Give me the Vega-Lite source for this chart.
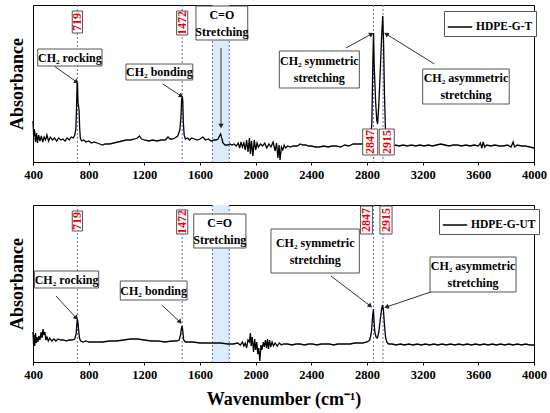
{
  "$schema": "https://vega.github.io/schema/vega-lite/v6.json",
  "padding": {"left": 7, "top": 4, "right": 0, "bottom": 0},
  "datasets": {
    "spec_t": [
      {"x":400,"y":41},{"x":405,"y":26},{"x":410,"y":33},{"x":418,"y":20},{"x":425,"y":29},{"x":432,"y":19},{"x":440,"y":27},{"x":450,"y":21},{"x":460,"y":26},{"x":470,"y":20},{"x":480,"y":25},{"x":490,"y":22},{"x":500,"y":27},{"x":512,"y":21},{"x":525,"y":25},{"x":540,"y":22},{"x":555,"y":24},{"x":570,"y":21},{"x":585,"y":24},{"x":600,"y":22},{"x":615,"y":23},{"x":630,"y":21},{"x":645,"y":24},{"x":660,"y":22},{"x":675,"y":25},{"x":690,"y":24},{"x":700,"y":27},{"x":708,"y":33},{"x":713,"y":55},{"x":717,"y":79},{"x":720,"y":78},{"x":723,"y":60},{"x":727,"y":56},{"x":731,"y":52},{"x":735,"y":35},{"x":740,"y":24},{"x":750,"y":21},{"x":765,"y":22},{"x":780,"y":20},{"x":800,"y":21},{"x":820,"y":19},{"x":840,"y":20},{"x":860,"y":19},{"x":880,"y":18},{"x":900,"y":17},{"x":920,"y":18},{"x":950,"y":18},{"x":980,"y":19},{"x":1010,"y":20},{"x":1040,"y":21},{"x":1070,"y":22},{"x":1100,"y":22},{"x":1130,"y":23},{"x":1150,"y":24},{"x":1165,"y":26},{"x":1180,"y":23},{"x":1200,"y":22},{"x":1230,"y":21},{"x":1260,"y":22},{"x":1290,"y":21},{"x":1320,"y":22},{"x":1350,"y":22},{"x":1370,"y":25},{"x":1385,"y":23},{"x":1400,"y":23},{"x":1420,"y":24},{"x":1440,"y":26},{"x":1455,"y":32},{"x":1463,"y":45},{"x":1468,"y":62},{"x":1472,"y":66},{"x":1476,"y":62},{"x":1480,"y":40},{"x":1486,"y":27},{"x":1495,"y":23},{"x":1510,"y":24},{"x":1525,"y":22},{"x":1540,"y":24},{"x":1560,"y":23},{"x":1580,"y":22},{"x":1600,"y":23},{"x":1620,"y":25},{"x":1640,"y":22},{"x":1660,"y":23},{"x":1680,"y":21},{"x":1700,"y":22},{"x":1715,"y":22},{"x":1730,"y":23},{"x":1740,"y":26},{"x":1748,"y":28},{"x":1756,"y":24},{"x":1765,"y":19},{"x":1780,"y":17},{"x":1800,"y":17},{"x":1815,"y":18},{"x":1830,"y":17},{"x":1845,"y":18},{"x":1860,"y":16},{"x":1875,"y":19},{"x":1885,"y":14},{"x":1895,"y":20},{"x":1905,"y":15},{"x":1915,"y":19},{"x":1925,"y":12},{"x":1935,"y":22},{"x":1945,"y":10},{"x":1955,"y":24},{"x":1962,"y":8},{"x":1970,"y":21},{"x":1980,"y":6},{"x":1990,"y":22},{"x":2000,"y":12},{"x":2010,"y":19},{"x":2020,"y":15},{"x":2035,"y":18},{"x":2050,"y":16},{"x":2065,"y":19},{"x":2080,"y":14},{"x":2095,"y":18},{"x":2110,"y":15},{"x":2125,"y":20},{"x":2140,"y":11},{"x":2150,"y":19},{"x":2160,"y":4},{"x":2168,"y":17},{"x":2175,"y":2},{"x":2185,"y":15},{"x":2195,"y":12},{"x":2205,"y":17},{"x":2215,"y":14},{"x":2230,"y":16},{"x":2250,"y":15},{"x":2270,"y":16},{"x":2300,"y":16},{"x":2320,"y":18},{"x":2340,"y":17},{"x":2360,"y":17},{"x":2380,"y":16},{"x":2400,"y":16},{"x":2430,"y":15},{"x":2460,"y":15},{"x":2490,"y":16},{"x":2520,"y":15},{"x":2550,"y":16},{"x":2580,"y":16},{"x":2610,"y":15},{"x":2640,"y":17},{"x":2670,"y":16},{"x":2700,"y":18},{"x":2730,"y":18},{"x":2760,"y":18},{"x":2790,"y":18},{"x":2810,"y":18},{"x":2825,"y":20},{"x":2835,"y":40},{"x":2842,"y":100},{"x":2847,"y":129},{"x":2852,"y":95},{"x":2862,"y":60},{"x":2870,"y":42},{"x":2876,"y":38},{"x":2884,"y":55},{"x":2895,"y":90},{"x":2905,"y":125},{"x":2913,"y":146},{"x":2919,"y":120},{"x":2925,"y":70},{"x":2932,"y":35},{"x":2940,"y":20},{"x":2950,"y":18},{"x":2970,"y":17},{"x":3000,"y":17},{"x":3030,"y":16},{"x":3060,"y":17},{"x":3090,"y":16},{"x":3120,"y":17},{"x":3150,"y":16},{"x":3180,"y":17},{"x":3210,"y":16},{"x":3240,"y":17},{"x":3270,"y":16},{"x":3300,"y":17},{"x":3330,"y":18},{"x":3360,"y":17},{"x":3390,"y":16},{"x":3420,"y":17},{"x":3450,"y":17},{"x":3480,"y":16},{"x":3510,"y":17},{"x":3540,"y":16},{"x":3570,"y":17},{"x":3600,"y":16},{"x":3615,"y":19},{"x":3625,"y":14},{"x":3635,"y":20},{"x":3645,"y":15},{"x":3660,"y":17},{"x":3690,"y":16},{"x":3720,"y":17},{"x":3750,"y":16},{"x":3780,"y":16},{"x":3810,"y":17},{"x":3835,"y":15},{"x":3850,"y":20},{"x":3860,"y":15},{"x":3880,"y":17},{"x":3910,"y":16},{"x":3940,"y":16},{"x":3970,"y":15},{"x":4000,"y":14}
    ],
    "spec_b": [
      {"x":400,"y":30},{"x":404,"y":18},{"x":408,"y":27},{"x":413,"y":16},{"x":418,"y":29},{"x":423,"y":19},{"x":428,"y":25},{"x":435,"y":20},{"x":442,"y":26},{"x":450,"y":22},{"x":458,"y":30},{"x":465,"y":24},{"x":472,"y":33},{"x":478,"y":27},{"x":485,"y":30},{"x":492,"y":22},{"x":500,"y":25},{"x":510,"y":21},{"x":520,"y":24},{"x":535,"y":21},{"x":550,"y":23},{"x":565,"y":21},{"x":580,"y":23},{"x":600,"y":22},{"x":620,"y":22},{"x":640,"y":21},{"x":660,"y":22},{"x":680,"y":22},{"x":700,"y":23},{"x":710,"y":28},{"x":715,"y":38},{"x":719,"y":43},{"x":723,"y":40},{"x":728,"y":32},{"x":734,"y":24},{"x":742,"y":21},{"x":760,"y":20},{"x":780,"y":21},{"x":800,"y":20},{"x":830,"y":20},{"x":860,"y":20},{"x":900,"y":20},{"x":950,"y":21},{"x":1000,"y":21},{"x":1050,"y":22},{"x":1100,"y":23},{"x":1150,"y":23},{"x":1200,"y":22},{"x":1250,"y":21},{"x":1300,"y":21},{"x":1350,"y":20},{"x":1400,"y":21},{"x":1430,"y":21},{"x":1450,"y":22},{"x":1460,"y":27},{"x":1467,"y":34},{"x":1472,"y":36},{"x":1477,"y":30},{"x":1483,"y":22},{"x":1495,"y":20},{"x":1520,"y":20},{"x":1550,"y":20},{"x":1600,"y":19},{"x":1650,"y":19},{"x":1700,"y":19},{"x":1750,"y":19},{"x":1800,"y":18},{"x":1840,"y":18},{"x":1870,"y":19},{"x":1890,"y":17},{"x":1905,"y":20},{"x":1915,"y":16},{"x":1925,"y":19},{"x":1935,"y":14},{"x":1945,"y":22},{"x":1955,"y":20},{"x":1962,"y":29},{"x":1968,"y":16},{"x":1975,"y":25},{"x":1985,"y":10},{"x":1993,"y":23},{"x":2000,"y":12},{"x":2008,"y":20},{"x":2015,"y":8},{"x":2022,"y":14},{"x":2030,"y":1},{"x":2038,"y":17},{"x":2045,"y":12},{"x":2055,"y":20},{"x":2062,"y":15},{"x":2070,"y":22},{"x":2078,"y":14},{"x":2085,"y":23},{"x":2092,"y":13},{"x":2100,"y":22},{"x":2108,"y":15},{"x":2118,"y":20},{"x":2128,"y":16},{"x":2140,"y":19},{"x":2155,"y":16},{"x":2170,"y":19},{"x":2185,"y":17},{"x":2200,"y":18},{"x":2230,"y":18},{"x":2260,"y":17},{"x":2290,"y":18},{"x":2320,"y":18},{"x":2350,"y":17},{"x":2380,"y":18},{"x":2410,"y":18},{"x":2440,"y":17},{"x":2470,"y":18},{"x":2500,"y":18},{"x":2530,"y":18},{"x":2560,"y":17},{"x":2590,"y":18},{"x":2620,"y":18},{"x":2650,"y":18},{"x":2680,"y":18},{"x":2710,"y":19},{"x":2740,"y":19},{"x":2770,"y":19},{"x":2800,"y":20},{"x":2820,"y":22},{"x":2832,"y":30},{"x":2840,"y":45},{"x":2846,"y":53},{"x":2850,"y":42},{"x":2856,"y":30},{"x":2865,"y":25},{"x":2875,"y":24},{"x":2885,"y":30},{"x":2895,"y":42},{"x":2905,"y":53},{"x":2912,"y":57},{"x":2918,"y":52},{"x":2925,"y":38},{"x":2933,"y":25},{"x":2942,"y":20},{"x":2955,"y":18},{"x":2980,"y":18},{"x":3010,"y":17},{"x":3040,"y":18},{"x":3070,"y":17},{"x":3100,"y":18},{"x":3130,"y":17},{"x":3160,"y":18},{"x":3190,"y":17},{"x":3220,"y":18},{"x":3250,"y":17},{"x":3280,"y":18},{"x":3310,"y":17},{"x":3340,"y":18},{"x":3370,"y":17},{"x":3400,"y":18},{"x":3430,"y":17},{"x":3460,"y":18},{"x":3490,"y":17},{"x":3520,"y":18},{"x":3550,"y":17},{"x":3580,"y":18},{"x":3610,"y":17},{"x":3640,"y":18},{"x":3670,"y":17},{"x":3700,"y":18},{"x":3730,"y":17},{"x":3760,"y":18},{"x":3790,"y":17},{"x":3820,"y":18},{"x":3850,"y":17},{"x":3880,"y":18},{"x":3910,"y":17},{"x":3940,"y":18},{"x":3970,"y":17},{"x":4000,"y":17}
    ],
    "vlines": [{"x":719},{"x":1472},{"x":1690},{"x":1810},{"x":2847},{"x":2915}],
    "band": [{"x":1690,"x2":1810}],
    "box_t": [
      {"x":434,"x2":896,"y":96,"y2":113,"tx":665,"ty":104.5,"label":"CH₂ rocking"},
      {"x":1068,"x2":1548,"y":82,"y2":98,"tx":1308,"ty":90,"label":"CH₂ bonding"},
      {"x":1571,"x2":1943,"y":122,"y2":156,"tx":1757,"ty":147.5,"label":"C=O\nStretching"},
      {"x":2170,"x2":2745,"y":74,"y2":111,"tx":2457,"ty":101,"label":"CH₂ symmetric\nstretching"},
      {"x":3200,"x2":3822,"y":58,"y2":93,"tx":3511,"ty":84,"label":"CH₂ asymmetric\nstretching"}
    ],
    "box_b": [
      {"x":410,"x2":872,"y":74,"y2":91,"tx":641,"ty":82.5,"label":"CH₂ rocking"},
      {"x":1027,"x2":1507,"y":62,"y2":81,"tx":1267,"ty":71.5,"label":"CH₂ bonding"},
      {"x":1555,"x2":1930,"y":114,"y2":148,"tx":1742,"ty":139.5,"label":"C=O\nStretching"},
      {"x":2110,"x2":2745,"y":89,"y2":133,"tx":2428,"ty":119.5,"label":"CH₂ symmetric\nstretching"},
      {"x":3253,"x2":3871,"y":70,"y2":105,"tx":3562,"ty":96,"label":"CH₂ asymmetric\nstretching"}
    ],
    "num_t": [
      {"x":682,"x2":756,"y":129,"y2":151,"tx":719,"ty":140,"label":"719"},
      {"x":1432,"x2":1512,"y":127,"y2":151,"tx":1472,"ty":139,"label":"1472"},
      {"x":2769,"x2":2877,"y":7,"y2":33,"tx":2823,"ty":20,"label":"2847"},
      {"x":2888,"x2":2996,"y":7,"y2":33,"tx":2942,"ty":20,"label":"2915"}
    ],
    "num_b": [
      {"x":682,"x2":756,"y":131,"y2":151,"tx":719,"ty":141,"label":"719"},
      {"x":1432,"x2":1512,"y":128,"y2":152,"tx":1472,"ty":140,"label":"1472"},
      {"x":2753,"x2":2839,"y":128,"y2":156,"tx":2796,"ty":142,"label":"2847"},
      {"x":2893,"x2":2980,"y":128,"y2":156,"tx":2937,"ty":142,"label":"2915"}
    ],
    "arr_t": [
      {"x":552,"y":96,"x2":714,"y2":80,"ang":127},
      {"x":1332,"y":78,"x2":1465,"y2":66,"ang":124},
      {"x":1751,"y":114,"x2":1751,"y2":36,"ang":180},
      {"x":2649,"y":114,"x2":2832,"y2":128,"ang":61},
      {"x":3284,"y":98,"x2":2938,"y2":128,"ang":303}
    ],
    "arr_b": [
      {"x":565,"y":66,"x2":711,"y2":44,"ang":140},
      {"x":1325,"y":57,"x2":1456,"y2":40,"ang":140},
      {"x":2541,"y":86,"x2":2824,"y2":56,"ang":130},
      {"x":3320,"y":73,"x2":2940,"y2":55,"ang":251}
    ]
  },
  "vconcat": [
    {
      "width": 501,
      "height": 157,
      "layer": [
        {
          "data": {"name": "band"},
          "mark": {"type": "rect", "color": "#dcedfa"},
          "encoding": {
            "x": {"field": "x", "type": "quantitative"},
            "x2": {"field": "x2"}
          }
        },
        {
          "data": {"name": "vlines"},
          "mark": {"type": "rule", "color": "#6666dd", "strokeDash": [2, 2], "strokeWidth": 1},
          "encoding": {"x": {"field": "x", "type": "quantitative"}}
        },
        {
          "data": {"name": "spec_t"},
          "mark": {"type": "line", "strokeWidth": 1.3},
          "encoding": {
            "x": {
              "field": "x", "type": "quantitative",
              "scale": {"domain": [400, 4000], "nice": false, "zero": false},
              "axis": {"title": null, "values": [400,600,800,1000,1200,1400,1600,1800,2000,2200,2400,2600,2800,3000,3200,3400,3600,3800,4000]}
            },
            "y": {
              "field": "y", "type": "quantitative",
              "scale": {"domain": [0, 157], "nice": false, "zero": false},
              "axis": {"title": "Absorbance"}
            },
            "color": {
              "datum": "HDPE-G-T", "type": "nominal",
              "scale": {"range": ["black"]},
              "legend": {"orient": "none", "legendX": 411, "legendY": 6}
            }
          }
        },
        {
          "data": {"name": "arr_t"},
          "mark": {"type": "rule", "color": "#333", "strokeWidth": 1},
          "encoding": {
            "x": {"field": "x", "type": "quantitative"},
            "y": {"field": "y", "type": "quantitative"},
            "x2": {"field": "x2"},
            "y2": {"field": "y2"}
          }
        },
        {
          "data": {"name": "arr_t"},
          "mark": {"type": "point", "shape": "triangle-up", "filled": true, "color": "#222", "size": 28, "opacity": 1},
          "encoding": {
            "x": {"field": "x2", "type": "quantitative"},
            "y": {"field": "y2", "type": "quantitative"},
            "angle": {"field": "ang", "type": "quantitative", "scale": null}
          }
        },
        {
          "data": {"name": "box_t"},
          "mark": {"type": "rect", "fill": "white", "stroke": "#555", "strokeWidth": 1},
          "encoding": {
            "x": {"field": "x", "type": "quantitative"},
            "x2": {"field": "x2"},
            "y": {"field": "y", "type": "quantitative"},
            "y2": {"field": "y2"}
          }
        },
        {
          "data": {"name": "box_t"},
          "mark": {"type": "text", "lineBreak": "\n", "lineHeight": 17, "fontSize": 12, "fontWeight": "bold", "font": "Liberation Serif", "color": "black", "baseline": "middle"},
          "encoding": {
            "x": {"field": "tx", "type": "quantitative"},
            "y": {"field": "ty", "type": "quantitative"},
            "text": {"field": "label"}
          }
        },
        {
          "data": {"name": "num_t"},
          "mark": {"type": "rect", "fill": "white", "stroke": "#555", "strokeWidth": 1},
          "encoding": {
            "x": {"field": "x", "type": "quantitative"},
            "x2": {"field": "x2"},
            "y": {"field": "y", "type": "quantitative"},
            "y2": {"field": "y2"}
          }
        },
        {
          "data": {"name": "num_t"},
          "mark": {"type": "text", "angle": 270, "fontSize": 12, "fontWeight": "bold", "font": "Liberation Serif", "color": "#e8000b", "baseline": "middle"},
          "encoding": {
            "x": {"field": "tx", "type": "quantitative"},
            "y": {"field": "ty", "type": "quantitative"},
            "text": {"field": "label"}
          }
        }
      ]
    },
    {
      "width": 501,
      "height": 157,
      "layer": [
        {
          "data": {"name": "band"},
          "mark": {"type": "rect", "color": "#dcedfa"},
          "encoding": {
            "x": {"field": "x", "type": "quantitative"},
            "x2": {"field": "x2"}
          }
        },
        {
          "data": {"name": "vlines"},
          "mark": {"type": "rule", "color": "#6666dd", "strokeDash": [2, 2], "strokeWidth": 1},
          "encoding": {"x": {"field": "x", "type": "quantitative"}}
        },
        {
          "data": {"name": "spec_b"},
          "mark": {"type": "line", "strokeWidth": 1.3},
          "encoding": {
            "x": {
              "field": "x", "type": "quantitative",
              "scale": {"domain": [400, 4000], "nice": false, "zero": false},
              "axis": {"title": "Wavenumber (cm⁻¹)", "values": [400,600,800,1000,1200,1400,1600,1800,2000,2200,2400,2600,2800,3000,3200,3400,3600,3800,4000]}
            },
            "y": {
              "field": "y", "type": "quantitative",
              "scale": {"domain": [0, 157], "nice": false, "zero": false},
              "axis": {"title": "Absorbance"}
            },
            "color": {
              "datum": "HDPE-G-UT", "type": "nominal",
              "scale": {"range": ["black"]},
              "legend": {"orient": "none", "legendX": 406, "legendY": 4}
            }
          }
        },
        {
          "data": {"name": "arr_b"},
          "mark": {"type": "rule", "color": "#333", "strokeWidth": 1},
          "encoding": {
            "x": {"field": "x", "type": "quantitative"},
            "y": {"field": "y", "type": "quantitative"},
            "x2": {"field": "x2"},
            "y2": {"field": "y2"}
          }
        },
        {
          "data": {"name": "arr_b"},
          "mark": {"type": "point", "shape": "triangle-up", "filled": true, "color": "#222", "size": 28, "opacity": 1},
          "encoding": {
            "x": {"field": "x2", "type": "quantitative"},
            "y": {"field": "y2", "type": "quantitative"},
            "angle": {"field": "ang", "type": "quantitative", "scale": null}
          }
        },
        {
          "data": {"name": "box_b"},
          "mark": {"type": "rect", "fill": "white", "stroke": "#555", "strokeWidth": 1},
          "encoding": {
            "x": {"field": "x", "type": "quantitative"},
            "x2": {"field": "x2"},
            "y": {"field": "y", "type": "quantitative"},
            "y2": {"field": "y2"}
          }
        },
        {
          "data": {"name": "box_b"},
          "mark": {"type": "text", "lineBreak": "\n", "lineHeight": 17, "fontSize": 12, "fontWeight": "bold", "font": "Liberation Serif", "color": "black", "baseline": "middle"},
          "encoding": {
            "x": {"field": "tx", "type": "quantitative"},
            "y": {"field": "ty", "type": "quantitative"},
            "text": {"field": "label"}
          }
        },
        {
          "data": {"name": "num_b"},
          "mark": {"type": "rect", "fill": "white", "stroke": "#555", "strokeWidth": 1},
          "encoding": {
            "x": {"field": "x", "type": "quantitative"},
            "x2": {"field": "x2"},
            "y": {"field": "y", "type": "quantitative"},
            "y2": {"field": "y2"}
          }
        },
        {
          "data": {"name": "num_b"},
          "mark": {"type": "text", "angle": 270, "fontSize": 12, "fontWeight": "bold", "font": "Liberation Serif", "color": "#e8000b", "baseline": "middle"},
          "encoding": {
            "x": {"field": "tx", "type": "quantitative"},
            "y": {"field": "ty", "type": "quantitative"},
            "text": {"field": "label"}
          }
        }
      ]
    }
  ],
  "spacing": 23,
  "resolve": {"scale": {"x": "independent", "y": "independent", "color": "independent"}},
  "config": {
    "font": "Liberation Serif",
    "view": {"stroke": "black", "strokeWidth": 1},
    "axis": {"grid": false, "domainColor": "black", "tickColor": "black", "labelColor": "black", "titleColor": "black", "titleFont": "Liberation Serif", "labelFont": "Liberation Serif", "titleFontWeight": "bold", "labelFontWeight": "bold"},
    "axisX": {"format": "d", "labelExpr": "datum.value % 400 === 0 ? datum.label : ''", "tickSize": 3, "labelPadding": 3, "labelFontSize": 12.5, "labelOverlap": false, "labelFlush": false, "titleFontSize": 18, "titlePadding": 10},
    "axisY": {"labels": false, "ticks": false, "domain": false, "titleFontSize": 18, "titlePadding": 7},
    "legend": {"title": null, "symbolType": "stroke", "symbolSize": 600, "symbolStrokeWidth": 1.5, "symbolOffset": 0, "labelOffset": 3, "labelFont": "Liberation Serif", "labelFontWeight": "bold", "labelFontSize": 11.5, "labelColor": "black", "strokeColor": "#555", "fillColor": "white", "padding": 3, "cornerRadius": 0}
  }
}
